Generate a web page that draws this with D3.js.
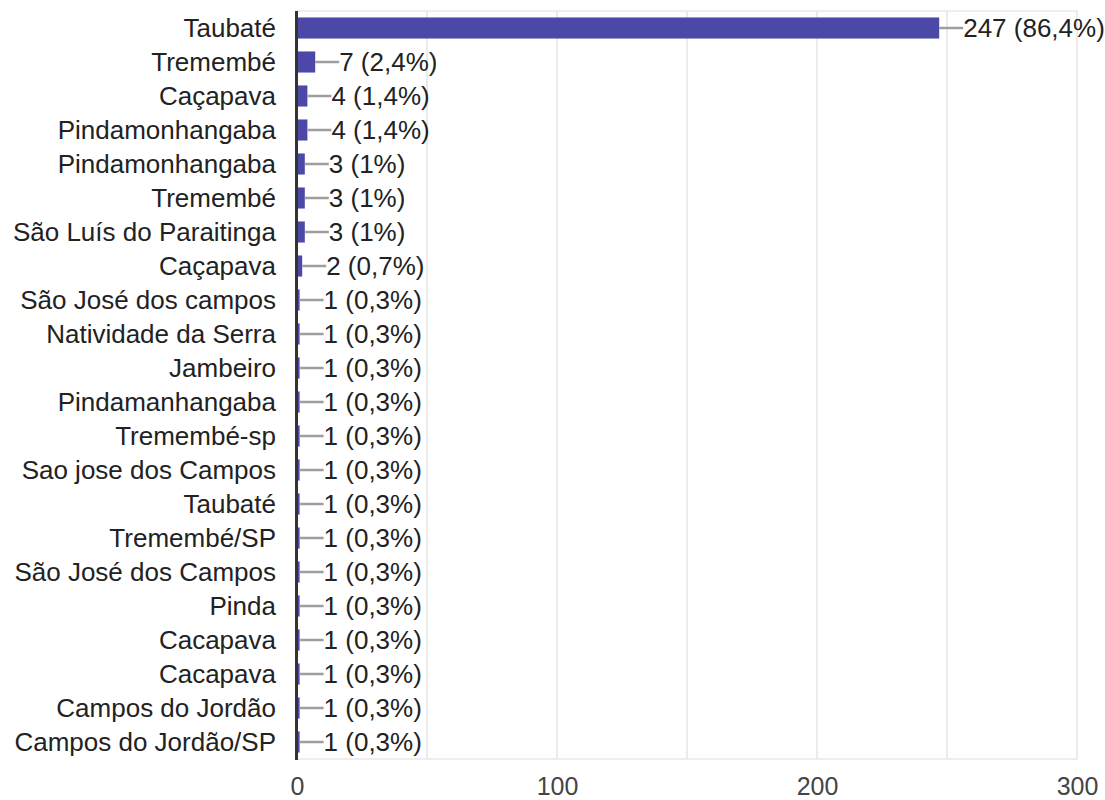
<!DOCTYPE html>
<html>
<head>
<meta charset="utf-8">
<script src="https://cdn.jsdelivr.net/npm/d3@7"></script>
<style>
  html, body { margin: 0; padding: 0; background: #fff; }
  svg { display: block; font-family: "Liberation Sans", Arial, sans-serif; }
</style>
</head>
<body>
<svg id="chart" width="1105" height="800"></svg>
<script>
// Responses per city
const categories = [
  "Taubaté", "Tremembé", "Caçapava", "Pindamonhangaba", "Pindamonhangaba",
  "Tremembé", "São Luís do Paraitinga", "Caçapava", "São José dos campos",
  "Natividade da Serra", "Jambeiro", "Pindamanhangaba", "Tremembé-sp",
  "Sao jose dos Campos", "Taubaté", "Tremembé/SP", "São José dos Campos",
  "Pinda", "Cacapava", "Cacapava", "Campos do Jordão", "Campos do Jordão/SP"
];
const counts = [247, 7, 4, 4, 3, 3, 3, 2, 1, 1, 1, 1, 1, 1, 1, 1, 1, 1, 1, 1, 1, 1];
const percents = [
  "86,4%", "2,4%", "1,4%", "1,4%", "1%", "1%", "1%", "0,7%",
  "0,3%", "0,3%", "0,3%", "0,3%", "0,3%", "0,3%", "0,3%", "0,3%",
  "0,3%", "0,3%", "0,3%", "0,3%", "0,3%", "0,3%"
];
const gridValues = [50, 100, 150, 200, 250, 300];
const tickValues = [0, 100, 200, 300];

const svg = d3.select("#chart");
const plotLeft = 297, plotRight = 1077, plotTop = 11, plotBottom = 759;
const fontSize = 26;
const tickFontSize = 25;

const x = d3.scaleLinear().domain([0, 300]).range([plotLeft, plotRight]);
const y = d3.scaleBand()
  .domain(d3.range(categories.length))
  .range([plotTop, plotBottom])
  .paddingInner(0.38)
  .paddingOuter(0.19);

// plot frame
svg.append("rect")
  .attr("x", plotLeft).attr("y", plotTop)
  .attr("width", plotRight - plotLeft).attr("height", plotBottom - plotTop)
  .attr("fill", "none").attr("stroke", "#eeeeee").attr("stroke-width", 2);

// vertical gridlines
svg.append("g").selectAll("line").data(gridValues).join("line")
  .attr("x1", d => x(d)).attr("x2", d => x(d))
  .attr("y1", plotTop).attr("y2", plotBottom)
  .attr("stroke", "#ebebeb").attr("stroke-width", 2);

// x-axis tick labels
const xAxis = d3.axisBottom(x).tickValues(tickValues).tickSize(0).tickPadding(0).tickFormat(d3.format("d"));
const gx = svg.append("g").attr("transform", `translate(0,${plotBottom})`).call(xAxis);
gx.select(".domain").remove();
gx.selectAll("text")
  .attr("y", 36).attr("dy", 0)
  .attr("fill", "#444").style("font-size", tickFontSize + "px")
  .style("font-family", "'Liberation Sans', Arial, sans-serif");

const rows = categories.map((c, i) => ({ i, c, v: counts[i], p: percents[i] }));

// bars
svg.append("g").selectAll("rect").data(rows).join("rect")
  .attr("x", x(0))
  .attr("y", d => y(d.i))
  .attr("width", d => x(d.v) - x(0))
  .attr("height", y.bandwidth())
  .attr("fill", "#4b48a7");

// connector lines to value labels
const mid = d => y(d.i) + y.bandwidth() / 2;
svg.append("g").selectAll("line").data(rows).join("line")
  .attr("x1", d => x(d.v)).attr("x2", d => x(d.v) + 24)
  .attr("y1", mid).attr("y2", mid)
  .attr("stroke", "#9e9e9e").attr("stroke-width", 2.5);

// value labels
svg.append("g").selectAll("text").data(rows).join("text")
  .attr("x", d => x(d.v) + 24)
  .attr("y", mid)
  .attr("dy", "0.35em")
  .attr("fill", "#222")
  .style("font-size", fontSize + "px")
  .text(d => `${d.v} (${d.p})`);

// category labels
svg.append("g").selectAll("text").data(rows).join("text")
  .attr("x", plotLeft - 21)
  .attr("y", mid)
  .attr("dy", "0.35em")
  .attr("text-anchor", "end")
  .attr("fill", "#222")
  .style("font-size", fontSize + "px")
  .text(d => d.c);

// left axis line
svg.append("line")
  .attr("x1", plotLeft - 0.5).attr("x2", plotLeft - 0.5)
  .attr("y1", plotTop).attr("y2", plotBottom + 1)
  .attr("stroke", "#333").attr("stroke-width", 3);
</script>
</body>
</html>
